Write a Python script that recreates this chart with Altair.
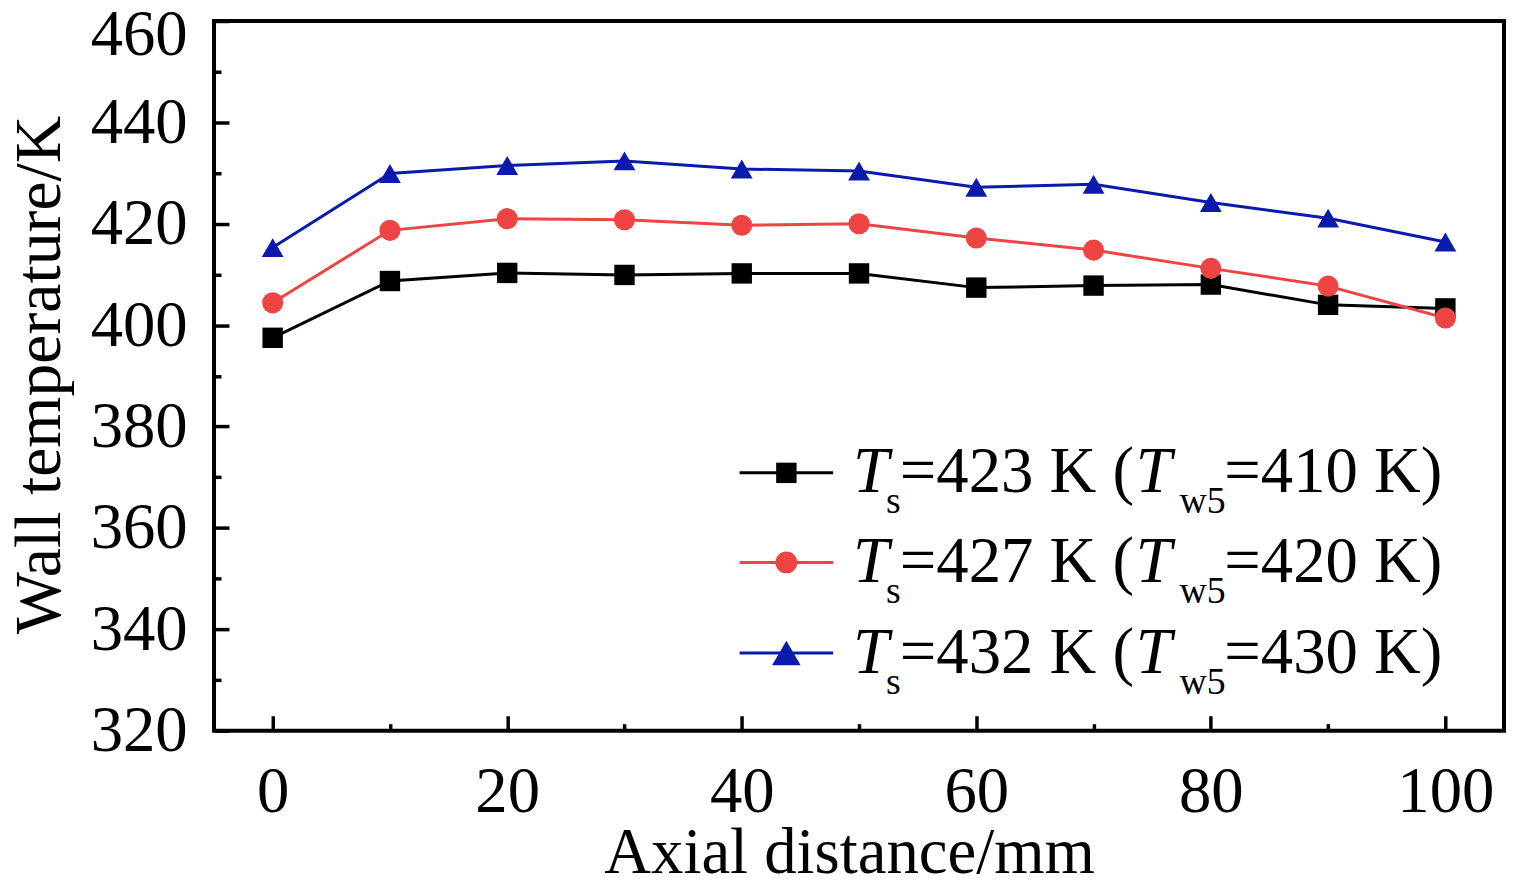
import altair as alt
import pandas as pd

# ---- data ----
x_vals = [0, 10, 20, 30, 40, 50, 60, 70, 80, 90, 100]
black = [397.5, 408.7, 410.3, 409.9, 410.2, 410.2, 407.4, 407.8, 408.0, 404.0, 403.3]
red = [404.4, 418.7, 421.0, 420.8, 419.7, 420.0, 417.2, 414.8, 411.2, 407.7, 401.4]
blue = [415.3, 429.9, 431.5, 432.4, 430.8, 430.4, 427.2, 427.8, 424.2, 421.1, 416.4]

series_names = ["s423", "s427", "s432"]
series_vals = [black, red, blue]
colors = ["#000000", "#EE4444", "#0A1AAA"]
shapes = ["square", "circle", "triangle-up"]
sizes = [420, 480, 820]

x_major = [0, 20, 40, 60, 80, 100]
x_minor = [10, 30, 50, 70, 90]
y_major = [320, 340, 360, 380, 400, 420, 440, 460]
y_top_label = [460]
y_minor = [330, 350, 370, 390, 410, 430, 450]

legend_ts = ["423", "427", "432"]
legend_tw5 = ["410", "420", "430"]

rows = []
for name, vals in zip(series_names, series_vals):
    for xv, yv in zip(x_vals, vals):
        rows.append({"x": xv, "y": yv, "series": name})
df = pd.DataFrame(rows)

FONT = "Liberation Serif"
W, H = 1296, 713

xscale = alt.Scale(domain=[-5, 105], nice=False, zero=False)
yscale = alt.Scale(domain=[320, 460], nice=False, zero=False)
cscale = alt.Scale(domain=series_names, range=colors)

major_x = alt.Axis(values=x_major, tickSize=15, tickWidth=3.5, tickColor="black",
                   offset=-15, domain=False, grid=False, labelFont=FONT,
                   labelFontSize=65, labelColor="black", labelPadding=30,
                   labelFlush=False, labelOverlap=False, format="d",
                   title="Axial distance/mm", titleFont=FONT, titleFontSize=65,
                   titleFontWeight="normal", titleColor="black",
                   titleX=638, titleY=157, titleBaseline="alphabetic",
                   titleAlign="center", orient="bottom")
minor_x = alt.Axis(values=x_minor, tickSize=7, tickWidth=3.5, tickColor="black",
                   offset=-7, domain=False, grid=False, labels=False,
                   title=None, orient="bottom")
major_y = alt.Axis(values=y_major, tickSize=15, tickWidth=3.5, tickColor="black",
                   offset=-15, domain=False, grid=False, labelFont=FONT,
                   labelFontSize=65, labelColor="black", labelPadding=27,
                   labelFlush=False, labelOverlap=False, format="d",
                   labelExpr="datum.value == 460 ? '' : datum.label",
                   title="Wall temperature/K", titleFont=FONT, titleFontSize=66,
                   titleFontWeight="normal", titleColor="black",
                   titleX=-170, titleY=355, titleAngle=270,
                   titleBaseline="alphabetic", titleAlign="center", orient="left")
top_label_y = alt.Axis(values=y_top_label, ticks=False, domain=False, grid=False,
                       labelFont=FONT, labelFontSize=65, labelColor="black",
                       labelPadding=27, labelOffset=14, labelFlush=False,
                       labelOverlap=False, format="d", title=None, orient="left")
minor_y = alt.Axis(values=y_minor, tickSize=7, tickWidth=3.5, tickColor="black",
                   offset=-7, domain=False, grid=False, labels=False,
                   title=None, orient="left")

base = alt.Chart(df)

lines = base.mark_line(strokeWidth=3).encode(
    x=alt.X("x:Q", scale=xscale, axis=major_x),
    y=alt.Y("y:Q", scale=yscale, axis=major_y),
    color=alt.Color("series:N", scale=cscale, legend=None),
)

points = base.mark_point(filled=True, opacity=1, strokeWidth=0).encode(
    x=alt.X("x:Q", scale=xscale, axis=None),
    y=alt.Y("y:Q", scale=yscale, axis=top_label_y),
    color=alt.Color("series:N", scale=cscale, legend=None),
    shape=alt.Shape("series:N", scale=alt.Scale(domain=series_names, range=shapes), legend=None),
    size=alt.Size("series:N", scale=alt.Scale(domain=series_names, range=sizes), legend=None),
)

minor = base.mark_point(opacity=0).encode(
    x=alt.X("x:Q", scale=xscale, axis=minor_x),
    y=alt.Y("y:Q", scale=yscale, axis=minor_y),
)

layers = [lines, points, minor]

# ---- manual legend (rich text with subscripts) ----
one = pd.DataFrame({"a": [0]})
line_y = [454, 544, 635]
base_y = [473, 564, 655]
sub_dy = 21
for i in range(3):
    c = colors[i]
    layers.append(alt.Chart(one).mark_rule(color=c, strokeWidth=3).encode(
        x=alt.value(528), x2=alt.value(622), y=alt.value(line_y[i])))
    layers.append(alt.Chart(one).mark_point(shape=shapes[i], filled=True, opacity=1,
                                            strokeWidth=0, color=c, size=sizes[i]).encode(
        x=alt.value(575), y=alt.value(line_y[i])))
    segs = [
        ("T", 642, 0, 65, "italic"),
        ("s", 675, sub_dy, 38, "normal"),
        ("=" + legend_ts[i] + " K (", 689, 0, 65, "normal"),
        ("T", 926, 0, 65, "italic"),
        ("w5", 970, sub_dy, 38, "normal"),
        ("=" + legend_tw5[i] + " K)", 1015, 0, 65, "normal"),
    ]
    for txt, sx, dy, fs, st in segs:
        layers.append(alt.Chart(one).mark_text(
            text=txt, font=FONT, fontSize=fs, fontStyle=st, align="left",
            baseline="alphabetic", color="black").encode(
            x=alt.value(sx), y=alt.value(base_y[i] + dy)))

chart = alt.layer(*layers).resolve_axis(x="independent", y="independent").properties(
    width=W, height=H,
    autosize=alt.AutoSizeParams(type="none"),
    padding={"left": 207, "top": 11, "right": 2, "bottom": 149},
    background="white",
).configure_view(stroke="black", strokeWidth=4)

chart.save("out.html", embed_options={"renderer": "svg", "actions": False})
